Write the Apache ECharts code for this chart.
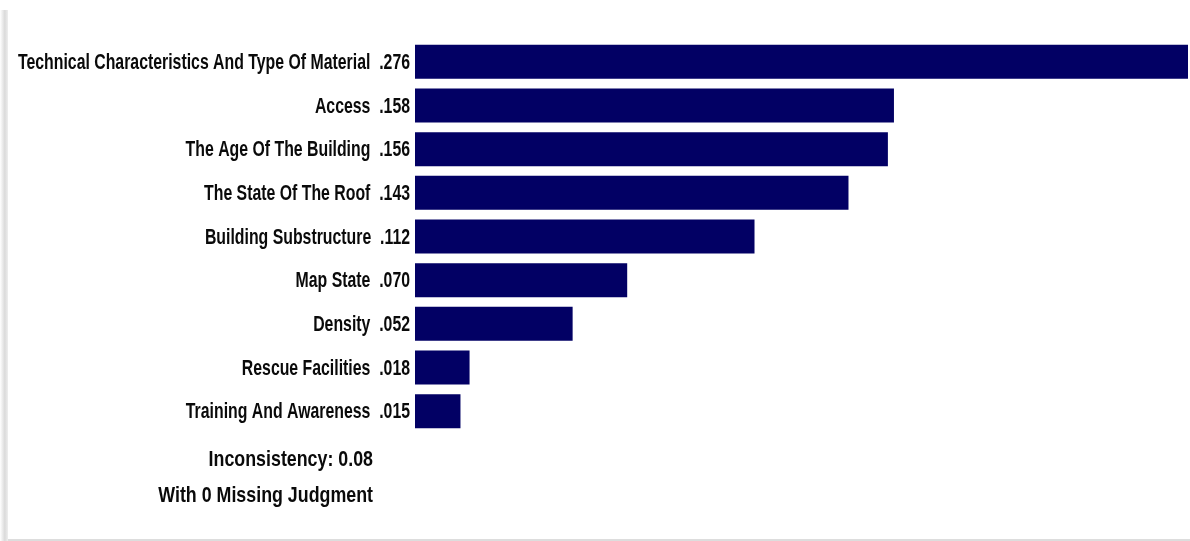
<!DOCTYPE html>
<html>
<head>
<meta charset="utf-8">
<script src="https://cdn.jsdelivr.net/npm/echarts@6/dist/echarts.min.js"></script>
<style>
  html, body { margin: 0; padding: 0; background: #fff; }
  #chart { width: 1190px; height: 541px; }
</style>
</head>
<body>
<div id="chart"></div>
<script>
// criteria, top to bottom
const categories = [
    'Technical Characteristics And Type Of Material',
    'Access',
    'The Age Of The Building',
    'The State Of The Roof',
    'Building Substructure',
    'Map State',
    'Density',
    'Rescue Facilities',
    'Training And Awareness'
];
const weights = [0.276, 0.158, 0.156, 0.143, 0.112, 0.070, 0.052, 0.018, 0.015];
const footnotes = ['Inconsistency: 0.08', 'With 0 Missing Judgment'];

// ".276" style
const fmt = (v) => v.toFixed(3).replace(/^0/, '');
const FONT = '"Liberation Sans", Arial, sans-serif';

const chart = echarts.init(document.getElementById('chart'));

// narrow bold labels: no condensed font installed, so squeeze the text instead
function renderLabel(params, api) {
    const i = api.value(1);
    const p = api.coord([0, i]);
    return {
        type: 'text',
        x: p[0] - 5,
        y: p[1] + 1,
        scaleX: 0.72,
        style: {
            text: categories[i] + '  ' + fmt(weights[i]),
            font: 'bold 22px ' + FONT,
            fill: '#0a0a0a',
            textAlign: 'right',
            textVerticalAlign: 'middle'
        }
    };
}

const option = {
    backgroundColor: '#fff',
    animation: false,
    grid: { left: 415, right: 2, top: 40, height: 393, outerBoundsMode: 'none', containLabel: false },
    xAxis: {
        type: 'value',
        min: 0,
        max: 0.255,  // widest bar runs off the frame in the original
        show: false
    },
    yAxis: {
        type: 'category',
        inverse: true,
        data: categories,
        axisLine: { show: false },
        axisTick: { show: false },
        axisLabel: { show: false }
    },
    series: [
        {
            type: 'bar',
            data: weights,
            barWidth: 34,
            clip: true,
            itemStyle: { color: '#020064' }
        },
        {
            type: 'custom',
            clip: false,
            silent: true,
            renderItem: renderLabel,
            data: categories.map((c, i) => [0, i])
        }
    ],
    graphic: [
        {
            type: 'rect',
            shape: { x: 0, y: 10, width: 8, height: 531 },
            style: {
                fill: new echarts.graphic.LinearGradient(0, 0, 1, 0, [
                    { offset: 0, color: 'rgba(255,255,255,1)' },
                    { offset: 0.6, color: 'rgba(218,218,218,1)' },
                    { offset: 1, color: 'rgba(238,238,238,1)' }
                ])
            }
        },
        {
            type: 'rect',
            shape: { x: 8, y: 539, width: 1182, height: 2 },
            style: { fill: '#dddddd' }
        },
        {
            type: 'text',
            x: 373,
            y: 460,
            scaleX: 0.81,
            style: { text: footnotes[0], font: 'bold 22px ' + FONT, fill: '#0a0a0a', textAlign: 'right', textVerticalAlign: 'middle' }
        },
        {
            type: 'text',
            x: 373,
            y: 496,
            scaleX: 0.81,
            style: { text: footnotes[1], font: 'bold 22px ' + FONT, fill: '#0a0a0a', textAlign: 'right', textVerticalAlign: 'middle' }
        }
    ]
};

chart.setOption(option);
</script>
</body>
</html>
